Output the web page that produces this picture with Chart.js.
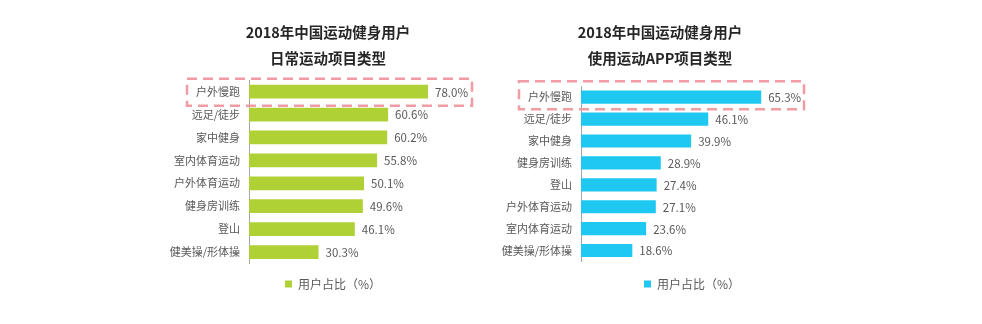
<!DOCTYPE html>
<html>
<head>
<meta charset="utf-8">
<script src="https://cdn.jsdelivr.net/npm/chart.js@4.4.1/dist/chart.umd.min.js"></script>
<style>
  html, body { margin: 0; padding: 0; background: #fff; }
  body { width: 982px; height: 324px; position: relative; overflow: hidden; }
  .panel { position: absolute; top: 0; width: 330px; height: 324px; }
  #daily-panel { left: 163px; }
  #app-panel { left: 495px; }
</style>
</head>
<body>
<div class="panel" id="daily-panel"><canvas id="daily"></canvas></div>
<div class="panel" id="app-panel"><canvas id="app"></canvas></div>
<script>
// Daily sports types
const dailyTitle = ['2018年中国运动健身用户', '日常运动项目类型']
const dailyLabels = ['户外慢跑', '远足/徒步', '家中健身', '室内体育运动', '户外体育运动', '健身房训练', '登山', '健美操/形体操']
const dailyValues = [78.0, 60.6, 60.2, 55.8, 50.1, 49.6, 46.1, 30.3]

// Sports app usage types
const appTitle = ['2018年中国运动健身用户', '使用运动APP项目类型']
const appLabels = ['户外慢跑', '远足/徒步', '家中健身', '健身房训练', '登山', '户外体育运动', '室内体育运动', '健美操/形体操']
const appValues = [65.3, 46.1, 39.9, 28.9, 27.4, 27.1, 23.6, 18.6]

const seriesName = '用户占比（%）'

const FONT = '"Noto Sans CJK SC", "Noto Sans", sans-serif'
const GRAY = '#595959'

Chart.defaults.font.family = FONT
Chart.defaults.color = GRAY

// percentage label right of each bar
const valueLabels = {
  id: 'valueLabels',
  afterDatasetsDraw(chart) {
    const { ctx } = chart
    const meta = chart.getDatasetMeta(0)
    const values = chart.data.datasets[0].data
    ctx.save()
    ctx.font = '11.5px ' + FONT
    ctx.fillStyle = GRAY
    ctx.textBaseline = 'middle'
    ctx.textAlign = 'left'
    meta.data.forEach((bar, i) => {
      ctx.fillText(values[i].toFixed(1) + '%', bar.x + 7, bar.y + 0.5)
    })
    ctx.restore()
  },
}

// dashed highlight box around the top category
const highlightBox = {
  id: 'highlightBox',
  afterDraw(chart, args, opts) {
    const { ctx, chartArea } = chart
    const y = chart.scales.y.getPixelForValue(0)
    ctx.save()
    ctx.strokeStyle = '#f19ca5'
    ctx.lineWidth = 2.5
    ctx.setLineDash([10, 6])
    ctx.strokeRect(
      chartArea.left - 62,
      y - opts.above,
      285,
      opts.above + opts.below
    )
    ctx.restore()
  },
}

// nudges the legend sideways
const legendShift = {
  id: 'legendShift',
  afterLayout(chart, args, opts) {
    const dx = opts.dx || 0
    chart.legend.left += dx
    chart.legend.right += dx
  },
}

function createBarChart(canvas, { title, labels, values, color, xMax, titleGap, legendPad, box, dx }) {
  return new Chart(canvas, {
    type: 'bar',
    data: {
      labels,
      datasets: [
        {
          label: seriesName,
          data: values,
          backgroundColor: color,
          categoryPercentage: 1,
          barPercentage: 0.6,
        },
      ],
    },
    options: {
      indexAxis: 'y',
      responsive: true,
      maintainAspectRatio: false,
      animation: false,
      layout: {
        padding: { top: 0, bottom: 24, left: 0, right: 0 },
      },
      scales: {
        x: {
          display: false,
          min: 0,
          max: xMax,
        },
        y: {
          grid: {
            drawOnChartArea: false,
            drawTicks: false,
          },
          border: { display: true, color: '#a6a6a6', width: 1 },
          ticks: {
            padding: 9,
            color: GRAY,
            font: { size: 11 },
          },
          afterFit(scale) {
            scale.width = 86
          },
        },
      },
      plugins: {
        title: {
          display: true,
          text: title,
          color: '#262626',
          font: { size: 14.5, weight: 'bold', lineHeight: 1.8 },
          padding: { top: 19, bottom: titleGap },
        },
        legend: {
          position: 'bottom',
          labels: {
            boxWidth: 7,
            boxHeight: 7,
            padding: legendPad,
            color: GRAY,
            font: { size: 12 },
          },
        },
        tooltip: { enabled: false },
        highlightBox: box,
        legendShift: { dx },
      },
    },
    plugins: [valueLabels, highlightBox, legendShift],
  })
}

createBarChart(document.getElementById('daily'), {
  title: dailyTitle,
  labels: dailyLabels,
  values: dailyValues,
  color: '#afd136',
  xMax: 106.3,
  titleGap: 9,
  legendPad: 14.5,
  box: { above: 13, below: 14 },
  dx: 5,
})

createBarChart(document.getElementById('app'), {
  title: appTitle,
  labels: appLabels,
  values: appValues,
  color: '#1ec8f0',
  xMax: 88.4,
  titleGap: 15,
  legendPad: 16.5,
  box: { above: 16, below: 12 },
  dx: 32,
})
</script>
</body>
</html>
